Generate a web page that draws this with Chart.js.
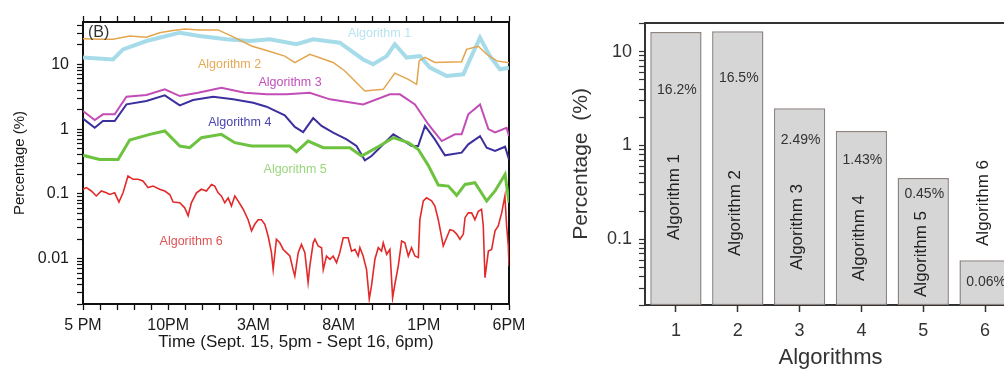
<!DOCTYPE html>
<html>
<head>
<meta charset="utf-8">
<script src="https://cdn.jsdelivr.net/npm/chart.js@4.4.1/dist/chart.umd.min.js"></script>
<style>
  html, body { margin: 0; padding: 0; background: #fff; overflow: hidden; }
  body { width: 1004px; height: 371px; position: relative; }
  #timeChart { position: absolute; left: 0; top: 0; }
  #barChart { position: absolute; left: 560px; top: 0; }
</style>
</head>
<body>
<canvas id="timeChart" width="540" height="371"></canvas>
<canvas id="barChart" width="460" height="371"></canvas>
<script>
// Global look: Arial-like font, dark text, no animation
Chart.defaults.font.family = "'Liberation Sans', Arial, sans-serif";
Chart.defaults.color = '#1a1a1a';
Chart.defaults.animation = false;

// ---------- Data: panel B (time series, hours after 5 PM) ----------
const timeTickLabels = ['5 PM', '10PM', '3AM', '8AM', '1PM', '6PM'];
const seriesNames = ['Algorithm 1', 'Algorithm 2', 'Algorithm 3', 'Algorithm 4', 'Algorithm 5', 'Algorithm 6'];

const alg1Hours = [0, 1.76, 2.35, 3.72, 4.89, 5.68, 6.85, 8.42, 9.79, 10.96, 12.53, 13.51, 15.07, 16.44, 17.03,
  17.82, 18.3, 18.99, 19.77, 20.36, 21.34, 22.32, 22.71, 23.3, 23.88, 24.47, 25];
const alg1Values = [12.7, 11.9, 17.0, 22.9, 27.4, 30.8, 27.4, 24.3, 22.9, 24.3, 20.4, 24.3, 21.6, 11.9, 10,
  13.4, 20.4, 12.7, 13.4, 8.9, 6.6, 7.0, 11.9, 25.8, 13.4, 8.4, 8.9];

const alg2Hours = [0, 0.98, 1.76, 2.74, 3.72, 4.5, 5.19, 5.97, 6.85, 7.93, 8.91, 9.89, 10.87, 11.84, 12.43, 13.31,
  14.68, 15.37, 16.54, 17.62, 18.3, 19.09, 19.58, 19.73, 20.07, 20.65, 22.22, 22.51, 23.2, 23.69, 24.28, 25];
const alg2Values = [24.9, 24.3, 24.3, 27.4, 26.1, 30.8, 33, 35, 34, 34, 25.8, 19.2, 16.1, 13.4, 10.6, 14.3,
  10.7, 7.9, 3.87, 4.11, 7.3, 5.87, 4.91, 11.3, 12.8, 10.7, 11.0, 17.0, 19.0, 14.3, 11.3, 10.6];

const alg3Hours = [0, 0.69, 1.17, 1.86, 2.55, 3.72, 4.8, 5.68, 6.75, 8.12, 9.5, 10.77, 11.94, 13.31, 14.49,
  16.44, 18.01, 18.6, 19.48, 20.26, 21.05, 21.83, 22.22, 22.61, 23.3, 23.79, 24.18, 24.86, 25];
const alg3Values = [1.90, 1.38, 1.69, 1.69, 3.17, 3.36, 4.11, 3.24, 3.65, 4.36, 3.65, 3.44, 3.44, 3.65, 2.88,
  2.41, 3.44, 3.44, 2.41, 1.19, 0.655, 0.83, 0.83, 1.69, 2.41, 1.0, 0.89, 1.05, 0.78];

const alg4Hours = [0, 0.69, 1.17, 1.86, 2.55, 3.72, 4.8, 5.68, 6.46, 7.64, 8.81, 9.99, 10.77, 11.84, 12.43,
  12.92, 13.51, 14.0, 14.68, 15.47, 16.05, 16.54, 16.93, 17.52, 18.21, 18.7, 19.28, 19.67, 20.07, 20.65,
  21.24, 22.22, 22.61, 23.3, 23.69, 24.18, 24.77, 25];
const alg4Values = [1.45, 1.05, 1.33, 1.33, 2.41, 2.72, 3.32, 2.33, 2.81, 3.17, 2.88, 2.56, 2.22, 1.63, 1.08,
  0.90, 1.48, 1.12, 0.88, 0.695, 0.548, 0.33, 0.385, 0.548, 0.83, 0.695, 0.548, 0.548, 1.12, 0.695,
  0.394, 0.433, 0.582, 0.78, 0.517, 0.459, 0.535, 0.341];

const alg5Hours = [0, 0.98, 2.06, 2.74, 3.92, 4.8, 5.68, 6.26, 6.95, 8.12, 8.91, 9.89, 11.26, 12.14, 12.53,
  13.21, 14.1, 15.66, 16.35, 17.23, 18.21, 19.09, 19.67, 20.26, 20.85, 21.44, 21.93, 22.42, 23.0, 23.69,
  24.18, 24.77, 25];
const alg5Values = [0.394, 0.34, 0.34, 0.679, 0.83, 0.935, 0.548, 0.517, 0.738, 0.83, 0.618, 0.548, 0.548, 0.548, 0.449,
  0.655, 0.517, 0.517, 0.385, 0.517, 0.738, 0.618, 0.488, 0.276, 0.137, 0.132, 0.095, 0.140, 0.149, 0.0776,
  0.111, 0.200, 0.073];

const alg6Hours = [
  0, 0.20, 0.49, 0.78, 1.08, 1.37, 1.57, 1.86, 2.11, 2.35,
  2.64, 2.94, 3.23, 3.52, 3.82, 4.11, 4.50, 4.80, 5.09, 5.29,
  5.68, 5.97, 6.17, 6.36, 6.66, 6.95, 7.24, 7.54, 7.73, 7.93,
  8.12, 8.32, 8.52, 8.71, 8.91, 9.10, 9.40, 9.69, 9.89, 10.08,
  10.28, 10.47, 10.67, 10.87, 11.06, 11.16, 11.35, 11.55, 11.75, 11.94,
  12.14, 12.33, 12.43, 12.63, 12.82, 13.02, 13.21, 13.31, 13.51, 13.61,
  13.80, 14.00, 14.10, 14.29, 14.49, 14.68, 14.88, 15.07, 15.27, 15.56,
  15.76, 15.96, 16.15, 16.25, 16.44, 16.64, 16.80, 16.93, 17.13, 17.33,
  17.52, 17.62, 17.82, 18.01, 18.17, 18.30, 18.50, 18.70, 18.89, 19.09,
  19.28, 19.48, 19.68, 19.77, 19.97, 20.16, 20.46, 20.65, 20.85, 21.05,
  21.14, 21.34, 21.53, 21.73, 21.93, 22.12, 22.32, 22.42, 22.61, 22.81,
  23.00, 23.20, 23.39, 23.49, 23.59, 23.79, 23.98, 24.18, 24.37, 24.57,
  24.76, 24.86, 24.96, 25.00];
const alg6Values = [
  0.118, 0.125, 0.111, 0.093, 0.111, 0.104, 0.098, 0.104, 0.075, 0.104,
  0.189, 0.168, 0.168, 0.158, 0.125, 0.132, 0.118, 0.111, 0.098, 0.075,
  0.073, 0.061, 0.046, 0.073, 0.104, 0.118, 0.111, 0.140, 0.132, 0.104,
  0.093, 0.073, 0.087, 0.065, 0.093, 0.078, 0.058, 0.040, 0.027, 0.034,
  0.040, 0.040, 0.034, 0.022, 0.0124, 0.0068, 0.020, 0.0176, 0.0139, 0.0124,
  0.011, 0.0068, 0.0054, 0.0124, 0.0166, 0.0124, 0.0043, 0.0077, 0.0176, 0.020,
  0.0157, 0.0148, 0.0068, 0.011, 0.0098, 0.011, 0.0087, 0.0124, 0.0211, 0.0211,
  0.0131, 0.0139, 0.011, 0.0148, 0.011, 0.0068, 0.0024, 0.0038, 0.0098, 0.0148,
  0.0131, 0.0176, 0.0117, 0.0139, 0.0025, 0.0040, 0.0077, 0.0187, 0.0176, 0.011,
  0.0148, 0.011, 0.0104, 0.040, 0.078, 0.087, 0.078, 0.065, 0.040, 0.0211,
  0.0157, 0.0211, 0.028, 0.027, 0.024, 0.020, 0.024, 0.043, 0.051, 0.051,
  0.040, 0.054, 0.058, 0.032, 0.0051, 0.0131, 0.0139, 0.027, 0.032, 0.051,
  0.093, 0.032, 0.0157, 0.0077];

// ---------- Data: bar panel ----------
const barCategories = ['1', '2', '3', '4', '5', '6'];
const barValues = [16.2, 16.5, 2.49, 1.43, 0.45, 0.06];

// ---------- Styles ----------
const FONT = "'Liberation Sans', Arial, sans-serif";
const seriesColors = ['#a6dbe9', '#e3a54d', '#c24db6', '#3b309e', '#6dc23f', '#e22a2a'];
const seriesWidths = [4, 1.5, 2, 2, 3, 1.6];
const labelColors = ['#b8e3ef', '#e6a954', '#c24fba', '#4a44b0', '#9ad77c', '#e05252'];

const hourArrays = [alg1Hours, alg2Hours, alg3Hours, alg4Hours, alg5Hours, alg6Hours];
const valueArrays = [alg1Values, alg2Values, alg3Values, alg4Values, alg5Values, alg6Values];

function toPoints(hours, values) {
  return hours.map((h, i) => ({ x: h, y: values[i] }));
}

// hourly ticks along the time axis
function hourTicks(scale) {
  const ticks = [];
  for (let h = 0; h <= 25; h++) ticks.push({ value: h });
  scale.ticks = ticks;
}

// 1..9 x 10^k ticks for log axes
function logTicks(scale) {
  const ticks = [];
  for (let k = -3; k <= 2; k++) {
    for (let d = 1; d <= 9; d++) {
      const v = parseFloat((d * Math.pow(10, k)).toPrecision(2));
      if (v >= scale.min && v <= scale.max) ticks.push({ value: v });
    }
  }
  scale.ticks = ticks;
}

function decadeLabel(value) {
  const e = Math.log10(value);
  return Math.abs(e - Math.round(e)) < 1e-9 ? String(value) : '';
}

// series names written straight on the plot
const panelLabels = {
  id: 'panelLabels',
  afterDatasetsDraw(chart) {
    const { ctx, chartArea, scales: { x, y } } = chart;
    // where each name sits, in (hour, percentage)
    const spots = [[17.4, 30], [8.6, 10], [12.15, 5.3], [9.2, 1.27], [12.45, 0.24], [6.35, 0.0184]];
    ctx.save();
    ctx.textBaseline = 'middle';
    ctx.fillStyle = '#333';
    ctx.font = '16px ' + FONT;
    ctx.fillText('(B)', chartArea.left + 5, chartArea.top + 11);
    ctx.font = '12.5px ' + FONT;
    ctx.textAlign = 'center';
    spots.forEach((s, i) => {
      ctx.fillStyle = labelColors[i];
      ctx.fillText(seriesNames[i], x.getPixelForValue(s[0]), y.getPixelForValue(s[1]));
    });
    ctx.restore();
  }
};

const timeAxisCommon = {
  type: 'linear', min: 0, max: 25,
  afterBuildTicks: hourTicks,
  grid: { display: true, drawOnChartArea: false, tickLength: 6, tickColor: '#111', tickWidth: 1.3 },
  border: { color: '#111', width: 2 }
};
const pctAxisCommon = {
  type: 'logarithmic', min: 0.002, max: 45,
  afterBuildTicks: logTicks,
  border: { color: '#111', width: 2 }
};

new Chart(document.getElementById('timeChart'), {
  type: 'line',
  data: {
    datasets: seriesNames.map((name, i) => ({
      label: name,
      data: toPoints(hourArrays[i], valueArrays[i]),
      borderColor: seriesColors[i],
      borderWidth: seriesWidths[i],
      pointRadius: 0,
      tension: 0,
      fill: false,
      order: 6 - i
    }))
  },
  options: {
    responsive: false,
    events: [],
    layout: { padding: 0 },
    plugins: { legend: { display: false }, tooltip: { enabled: false } },
    scales: {
      x: {
        ...timeAxisCommon,
        position: 'bottom',
        ticks: {
          autoSkip: false, maxRotation: 0, padding: 6, font: { size: 16 },
          callback: v => (v % 5 === 0 ? timeTickLabels[v / 5] : '')
        },
        title: {
          display: true, text: 'Time (Sept. 15, 5pm - Sept 16, 6pm)',
          font: { size: 17 }, padding: { top: 0, bottom: 18 }
        },
        afterFit: s => { s.height = 67; }
      },
      xTop: {
        ...timeAxisCommon,
        position: 'top',
        ticks: { display: false },
        afterFit: s => { s.height = 22; }
      },
      y: {
        ...pctAxisCommon,
        position: 'left',
        ticks: { autoSkip: false, padding: 8, font: { size: 16 }, callback: decadeLabel },
        grid: { display: true, drawOnChartArea: false, tickLength: 6, tickColor: '#111', tickWidth: 1.2 },
        title: { display: true, text: 'Percentage (%)', font: { size: 15 }, padding: { top: 11, bottom: 0 } },
        afterFit: s => { s.width = 83; }
      },
      yRight: {
        ...pctAxisCommon,
        position: 'right',
        ticks: { display: false },
        grid: { display: false },
        afterFit: s => { s.width = 31; }
      }
    }
  },
  plugins: [panelLabels]
});

// percentage and name written inside / above each bar
const barText = {
  id: 'barText',
  afterDatasetsDraw(chart) {
    const { ctx, chartArea } = chart;
    const bars = chart.getDatasetMeta(0).data;
    const pctOffsets = [58, 47, 32, 29, 16, 22];     // below bar top
    const nameOffsets = [108, 92, 78, 67, 51, 102];  // above axis
    ctx.save();
    ctx.fillStyle = '#333';
    ctx.textAlign = 'center';
    ctx.textBaseline = 'middle';
    bars.forEach((bar, i) => {
      ctx.font = '14px ' + FONT;
      ctx.fillText(barValues[i] + '%', bar.x + 1, bar.y + pctOffsets[i]);
      ctx.save();
      ctx.translate(bar.x - 2, chartArea.bottom - nameOffsets[i]);
      ctx.rotate(-Math.PI / 2);
      ctx.font = '17px ' + FONT;
      ctx.fillStyle = '#222';
      ctx.fillText(seriesNames[i], 0, 0);
      ctx.restore();
    });
    ctx.restore();
  }
};

new Chart(document.getElementById('barChart'), {
  type: 'bar',
  data: {
    labels: barCategories,
    datasets: [{
      data: barValues,
      backgroundColor: '#d6d6d6',
      borderColor: '#8e8580',
      borderWidth: 1.5,
      borderSkipped: false,
      barPercentage: 0.83,
      categoryPercentage: 1
    }]
  },
  options: {
    responsive: false,
    events: [],
    layout: { padding: { right: 4 } },
    plugins: { legend: { display: false }, tooltip: { enabled: false } },
    scales: {
      x: {
        type: 'category',
        offset: true,
        grid: { display: true, drawOnChartArea: false, offset: false, tickLength: 7, tickColor: '#333', tickWidth: 1.5 },
        border: { color: '#333', width: 2 },
        ticks: { padding: 8, color: '#333', font: { size: 18 } },
        title: { display: true, text: 'Algorithms', color: '#333', font: { size: 22 }, padding: { top: 0, bottom: 0 } },
        afterFit: s => { s.height = 66; }
      },
      xTop: {
        type: 'category',
        position: 'top',
        offset: true,
        grid: { display: false },
        ticks: { display: false },
        border: { color: '#333', width: 2 },
        afterFit: s => { s.height = 23; }
      },
      y: {
        type: 'logarithmic',
        min: 0.02, max: 20.2,
        afterBuildTicks: logTicks,
        ticks: { autoSkip: false, padding: 7, color: '#333', font: { size: 18 }, callback: decadeLabel },
        grid: { display: true, drawOnChartArea: false, tickLength: 6, tickColor: '#333', tickWidth: 1.2 },
        border: { color: '#333', width: 2 },
        title: { display: true, text: 'Percentage  (%)', color: '#333', font: { size: 21 }, padding: { top: 9, bottom: 0 } },
        afterFit: s => { s.width = 85; }
      }
    }
  },
  plugins: [barText]
});
</script>
</body>
</html>
